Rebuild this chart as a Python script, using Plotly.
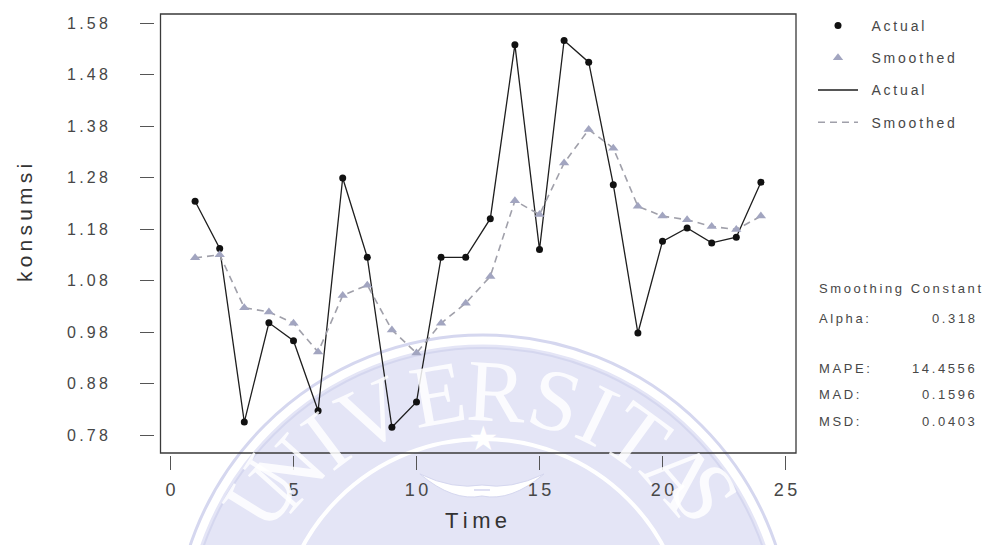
import math
import plotly.graph_objects as go

W, H = 995, 545

# ---------------- data ----------------
time = list(range(1, 25))
actual = [1.234, 1.142, 0.805, 0.998, 0.963, 0.827, 1.279, 1.125, 0.795, 0.844,
          1.125, 1.125, 1.200, 1.538, 1.140, 1.546, 1.504, 1.266, 0.978, 1.156,
          1.182, 1.153, 1.164, 1.271]
smoothed = [1.124, 1.130, 1.027, 1.019, 0.997, 0.941, 1.051, 1.071, 0.984, 0.939,
            0.997, 1.036, 1.088, 1.235, 1.208, 1.308, 1.373, 1.337, 1.224, 1.205,
            1.198, 1.185, 1.179, 1.205]
y_tick_vals = [0.78, 0.88, 0.98, 1.08, 1.18, 1.28, 1.38, 1.48, 1.58]
y_tick_labels = ["0.78", "0.88", "0.98", "1.08", "1.18", "1.28", "1.38", "1.48", "1.58"]
x_tick_vals = [0, 5, 10, 15, 20, 25]
x_tick_labels = ["0", "5", "10", "15", "20", "25"]
stat_labels = ["Alpha:", "MAPE:", "MAD:", "MSD:"]
stat_values = ["0.318", "14.4556", "0.1596", "0.0403"]

TS = "\u2009"  # thin space for the letter-spaced look of the original


def spaced(s):
    return TS.join(list(s))


def px(x):
    return x / W


def py(y):
    return 1 - y / H


FONT = "Liberation Sans, Arial, sans-serif"
TXT = "#474747"
SMOOTH_C = "#a2a5c0"
LEAD = TS * 3  # pushes legend text a little away from its symbol

fig = go.Figure()

# lines first (drawn underneath)
fig.add_trace(go.Scatter(x=time, y=actual, mode="lines", name=LEAD + spaced("Actual"),
                         line=dict(color="#1e1e1e", width=1.3), legendrank=3,
                         legendgroup="g3"))
fig.add_trace(go.Scatter(x=time, y=smoothed, mode="lines", name=LEAD + spaced("Smoothed"),
                         line=dict(color="#a0a0aa", width=1.6, dash="7px,5px"),
                         legendrank=4, legendgroup="g4"))
fig.add_trace(go.Scatter(x=time, y=actual, mode="markers", name=LEAD + spaced("Actual"),
                         marker=dict(color="#111111", size=7, symbol="circle"),
                         legendrank=1, legendgroup="g1"))
fig.add_trace(go.Scatter(x=time, y=smoothed, mode="markers", name=LEAD + spaced("Smoothed"),
                         marker=dict(color=SMOOTH_C, size=9, symbol="triangle-up"),
                         legendrank=2, legendgroup="g2"))

shapes = []
annotations = []

# ---------- faint university seal watermark (background) ----------
cx, cy = 475, 636
LAV = "#e4e5f6"
LAV_LINE = "#d5d7ef"


def circle(r, **kw):
    return dict(type="circle", xref="paper", yref="paper", layer="below",
                x0=px(cx - r), x1=px(cx + r), y0=py(cy + r), y1=py(cy - r), **kw)


shapes.append(circle(309, line=dict(color=LAV_LINE, width=3), fillcolor="rgba(0,0,0,0)"))
shapes.append(circle(301, line=dict(color="white", width=3), fillcolor=LAV))
shapes.append(circle(296, line=dict(color=LAV_LINE, width=2), fillcolor="rgba(0,0,0,0)"))
shapes.append(circle(205, line=dict(color="white", width=4), fillcolor="rgba(0,0,0,0)"))


def ppath(points):
    d = ""
    for cmd, pts in points:
        d += cmd + " " + " ".join(f"{px(a):.5f},{py(b):.5f}" for a, b in pts) + " "
    return d.strip()


bird = ppath([("M", [(412, 466)]), ("Q", [(445, 494), (474, 488)]),
              ("Q", [(503, 494), (536, 466)]), ("Q", [(503, 482), (474, 477)]),
              ("Q", [(445, 482), (412, 466)]), ("Z", [])])
shapes.append(dict(type="path", xref="paper", yref="paper", layer="below", path=bird,
                   fillcolor="white", line=dict(color=LAV_LINE, width=1)))
body = ppath([("M", [(466, 482)]), ("L", [(482, 482), (480, 506), (468, 506)]), ("Z", [])])
shapes.append(dict(type="path", xref="paper", yref="paper", layer="below", path=body,
                   fillcolor="white", line=dict(color=LAV_LINE, width=1)))
annotations.append(dict(x=px(475), y=py(452), xref="paper", yref="paper", text="\u2605",
                        showarrow=False, font=dict(size=34, color="white",
                                                   family="DejaVu Sans")))

seal_word = "UNIVERSITAS"
seal_angles = [-58, -48, -37, -25, -10, 3, 16, 26, 36, 49, 58]
lcx, lcy, lrx, lry = 475, 628, 262, 245
for ch, ang in zip(seal_word, seal_angles):
    a = math.radians(ang)
    lx = lcx + lrx * math.sin(a)
    ly = min(lcy - lry * math.cos(a), 484)
    annotations.append(dict(x=px(lx), y=py(ly), xref="paper", yref="paper", text=ch,
                            showarrow=False, textangle=ang, xanchor="center",
                            yanchor="middle",
                            font=dict(size=88, color="rgba(255,255,255,0.85)",
                                      family="Liberation Serif, serif")))

# ---------- plot frame ----------
shapes.append(dict(type="rect", xref="paper", yref="paper", layer="above",
                   x0=px(152.5), x1=px(788), y0=py(445), y1=py(6),
                   line=dict(color="#3a3a3a", width=1.3), fillcolor="rgba(0,0,0,0)"))

# ---------- axis titles ----------
annotations.append(dict(x=px(468), y=py(527), xref="paper", yref="paper",
                        text=spaced("Time"), showarrow=False,
                        font=dict(size=22, color="#333333", family=FONT)))
annotations.append(dict(x=px(16), y=py(215), xref="paper", yref="paper",
                        text=spaced("konsumsi"), showarrow=False, textangle=-90,
                        xanchor="center", yanchor="middle",
                        font=dict(size=21, color="#333333", family=FONT)))

# ---------- smoothing statistics ----------
annotations.append(dict(x=px(809), y=py(280), xref="paper", yref="paper",
                        text=spaced("Smoothing Constant"), showarrow=False,
                        xanchor="left", font=dict(size=13, color=TXT, family=FONT)))
stat_y = [310, 370, 396, 423]
for lab, val, yy in zip(stat_labels, stat_values, stat_y):
    annotations.append(dict(x=px(809), y=py(yy), xref="paper", yref="paper",
                            text=spaced(lab), showarrow=False, xanchor="left",
                            font=dict(size=13, color=TXT, family=FONT)))
    annotations.append(dict(x=px(969), y=py(yy), xref="paper", yref="paper",
                            text=spaced(val), showarrow=False, xanchor="right",
                            font=dict(size=13, color=TXT, family=FONT)))

x0_px, x_scale = 162.5, 24.6
y0_px, y_scale = 15, 515.0

fig.update_layout(
    width=W, height=H,
    margin=dict(l=0, r=0, t=0, b=0),
    paper_bgcolor="white",
    plot_bgcolor="rgba(0,0,0,0)",
    showlegend=True,
    legend=dict(x=px(805), y=py(2), xanchor="left", yanchor="top",
                font=dict(size=14, color=TXT, family=FONT),
                bgcolor="rgba(0,0,0,0)", tracegroupgap=11, itemwidth=40,
                traceorder="grouped"),
    xaxis=dict(domain=[px(147), px(788)],
               range=[(147 - x0_px) / x_scale, (788 - x0_px) / x_scale],
               tickmode="array", tickvals=x_tick_vals,
               ticktext=[spaced(t) for t in x_tick_labels],
               ticks="outside", ticklen=14, tickwidth=1.2, tickcolor="#555555",
               showgrid=False, zeroline=False, showline=False,
               tickfont=dict(size=18, color=TXT, family=FONT),
               ticklabelstandoff=4, fixedrange=True),
    yaxis=dict(domain=[py(447), py(6)],
               range=[1.58 - (447 - y0_px) / y_scale, 1.58 + (y0_px - 6) / y_scale],
               tickmode="array", tickvals=y_tick_vals,
               ticktext=[spaced(t) for t in y_tick_labels],
               ticks="outside", ticklen=14, tickwidth=1.2, tickcolor="#555555",
               showgrid=False, zeroline=False, showline=False,
               tickfont=dict(size=16, color=TXT, family=FONT),
               ticklabelstandoff=29, fixedrange=True),
    shapes=shapes,
    annotations=annotations,
)

fig.write_html("out.html")
